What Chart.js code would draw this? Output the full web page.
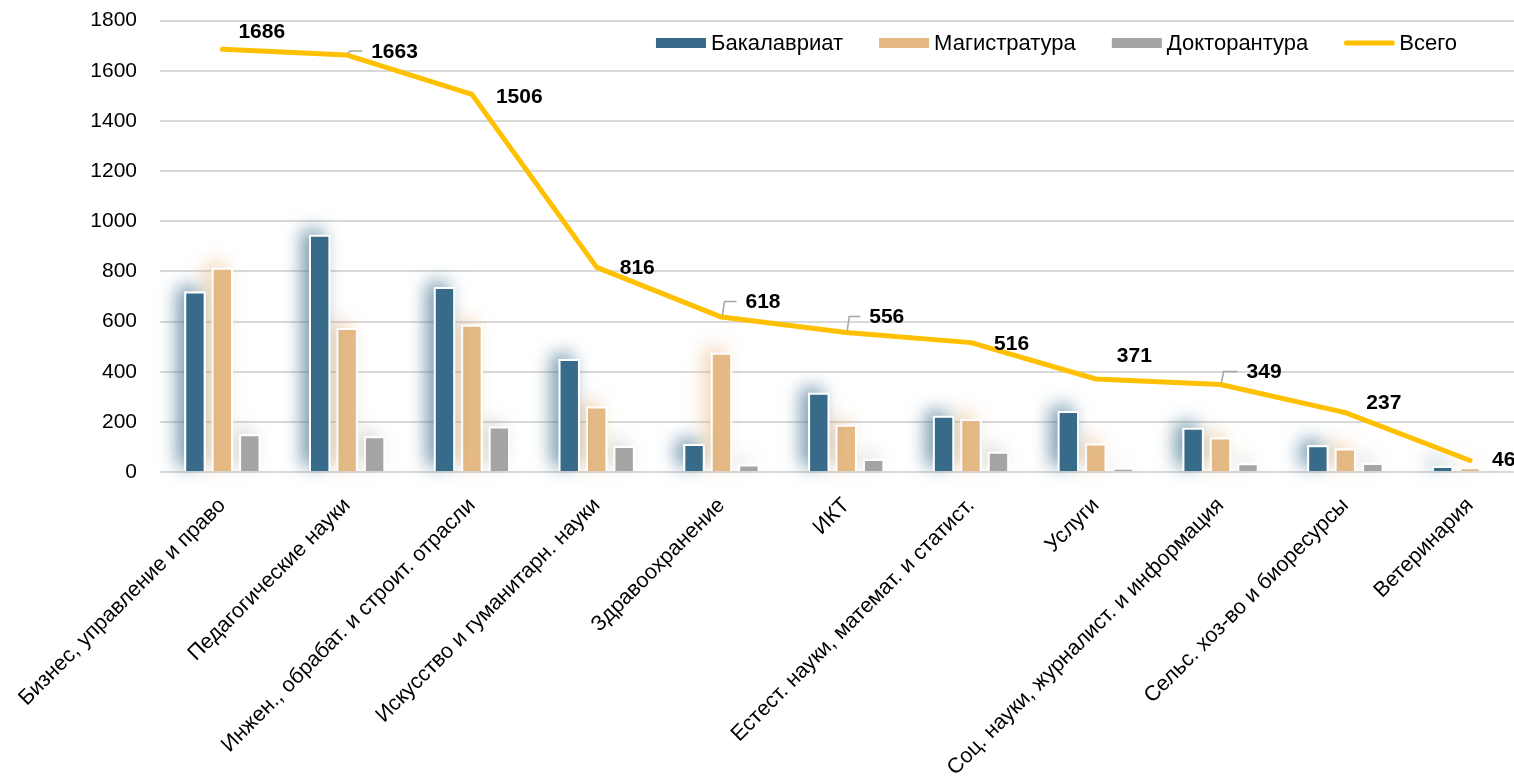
<!DOCTYPE html>
<html lang="ru">
<head>
<meta charset="utf-8">
<title>Выпускники по направлениям</title>
<script src="https://cdn.jsdelivr.net/npm/chart.js@4.4.1/dist/chart.umd.min.js"></script>
<style>
    html, body {
        margin: 0;
        padding: 0;
        background: #ffffff;
        overflow: hidden;
    }

    #wrap {
        position: relative;
        width: 1534px;
        height: 778px;
    }
</style>
</head>
<body>

<div id="wrap">
    <canvas id="chart"></canvas>
</div>

<script>

// данные с диаграммы
const categories = [
    "Бизнес, управление и право",
    "Педагогические науки",
    "Инжен., обрабат. и строит. отрасли",
    "Искусство и гуманитарн. науки",
    "Здравоохранение",
    "ИКТ",
    "Естест. науки, математ. и статист.",
    "Услуги",
    "Соц. науки, журналист. и информация",
    "Сельс. хоз-во и биоресурсы",
    "Ветеринария"
];

const seriesNames = [
    "Бакалавриат",
    "Магистратура",
    "Докторантура",
    "Всего"
];

const bachelor = [720, 946, 738, 451, 112, 316, 224, 243, 176, 107, 24];
const master   = [815, 574, 587, 261, 476, 188, 211, 114, 138, 94, 17];
const doctor   = [151, 143, 181, 104, 30, 52, 81, 14, 35, 36, 5];
const total    = [1686, 1663, 1506, 816, 618, 556, 516, 371, 349, 237, 46];

const yMin = 0;
const yMax = 1800;
const yStep = 200;


// где стоят подписи "Всего" относительно точки (как в Excel)
const labelOffsets = [
    [16, -17.5],
    [24, -3],
    [24, 2.5],
    [23, 1],
    [24, -14.5],
    [23, -15],
    [23, 2],
    [21, -22.5],
    [26, -12],
    [21, -9.5],
    [22, 0]
];

const withLeader = [false, true, false, false, true, true, false, false, true, false, false];


const FONT = "'Liberation Sans', Arial, sans-serif";

const colors = {
    bachelor: "#386B8A",
    master: "#E4B984",
    doctor: "#A5A5A5",
    total: "#FFC000"
};

const glow = [
    "rgba(56, 107, 138, 0.7)",
    "rgba(232, 180, 120, 0.55)",
    "rgba(150, 150, 150, 0.35)"
];


// мягкая тень за столбиками
const barGlow = {

    id: "barGlow",

    beforeDatasetDraw(chart, args) {

        if (args.index > 2) return;

        const ctx = chart.ctx;

        ctx.save();
        ctx.shadowColor = glow[args.index];
        ctx.shadowBlur = 18;
        ctx.shadowOffsetX = -7;
        ctx.shadowOffsetY = -5;
        ctx.fillStyle = "#ffffff";

        args.meta.data.forEach(bar => {

            const p = bar.getProps(["x", "y", "base", "width"], true);

            ctx.fillRect(
                p.x - p.width / 2,
                p.y,
                p.width,
                p.base - p.y
            );
        });

        ctx.restore();
    }
};


// подписи значений линии "Всего"
const totalLabels = {

    id: "totalLabels",

    afterDatasetsDraw(chart) {

        const ctx = chart.ctx;
        const meta = chart.getDatasetMeta(3);

        ctx.save();
        ctx.font = "bold 21px " + FONT;
        ctx.textAlign = "left";
        ctx.textBaseline = "middle";

        meta.data.forEach((pt, i) => {

            const dx = labelOffsets[i][0];
            const dy = labelOffsets[i][1];

            if (withLeader[i]) {
                ctx.strokeStyle = "#A5A5A5";
                ctx.lineWidth = 1.5;
                ctx.beginPath();
                ctx.moveTo(pt.x + 1, pt.y - 2);
                ctx.lineTo(pt.x + 3, pt.y + dy - 1);
                ctx.lineTo(pt.x + dx - 9, pt.y + dy - 1);
                ctx.stroke();
            }

            ctx.fillStyle = "#000000";
            ctx.fillText(String(total[i]), pt.x + dx, pt.y + dy);
        });

        ctx.restore();
    }
};


// легенда справа вверху, внутри области графика
const topLegend = {

    id: "topLegend",

    afterDraw(chart) {

        const ctx = chart.ctx;
        const sets = chart.data.datasets;

        const boxW = 50;
        const boxH = 10;
        const gap = 5;
        const spacing = 36;
        const right = 1457;
        const cy = 43;

        ctx.save();
        ctx.font = "22px " + FONT;
        ctx.textBaseline = "middle";
        ctx.textAlign = "left";

        const widths = sets.map(ds => boxW + gap + ctx.measureText(ds.label).width);
        let x = right - widths.reduce((a, b) => a + b, 0) - spacing * (sets.length - 1);

        sets.forEach((ds, i) => {

            if (ds.type === "line") {
                ctx.strokeStyle = ds.borderColor;
                ctx.lineWidth = 5;
                ctx.lineCap = "round";
                ctx.beginPath();
                ctx.moveTo(x + 2, cy);
                ctx.lineTo(x + boxW - 2, cy);
                ctx.stroke();
            } else {
                ctx.fillStyle = ds.backgroundColor;
                ctx.fillRect(x, cy - boxH / 2, boxW, boxH);
            }

            ctx.fillStyle = "#000000";
            ctx.fillText(ds.label, x + boxW + gap, cy + 1);

            x += widths[i] + spacing;
        });

        ctx.restore();
    }
};


function barSet(label, values, color) {
    return {
        type: "bar",
        label: label,
        data: values,
        backgroundColor: color,
        borderColor: "#ffffff",
        borderWidth: 2,
        borderSkipped: "bottom",
        categoryPercentage: 0.66,
        barPercentage: 0.78,
        order: 1
    };
}


new Chart(
    document.getElementById("chart"),
    {
        data: {
            labels: categories,
            datasets: [
                barSet(seriesNames[0], bachelor, colors.bachelor),
                barSet(seriesNames[1], master, colors.master),
                barSet(seriesNames[2], doctor, colors.doctor),
                {
                    type: "line",
                    label: seriesNames[3],
                    data: total,
                    borderColor: colors.total,
                    backgroundColor: colors.total,
                    borderWidth: 5,
                    pointRadius: 0,
                    tension: 0,
                    borderCapStyle: "round",
                    borderJoinStyle: "round",
                    order: 0
                }
            ]
        },

        options: {
            responsive: true,
            maintainAspectRatio: false,
            animation: false,

            layout: {
                padding: { top: 20.7, right: 1.5, bottom: 0, left: 0 }
            },

            plugins: {
                legend: { display: false },
                tooltip: { enabled: false }
            },

            scales: {
                x: {
                    grid: { display: false, drawTicks: false },
                    border: { display: false },
                    ticks: {
                        autoSkip: false,
                        minRotation: 45,
                        maxRotation: 45,
                        padding: 21,
                        color: "#000000",
                        font: { family: FONT, size: 21.5 }
                    },
                    afterFit(scale) {
                        scale.height = 306;
                        scale.paddingLeft = 0;
                        scale.paddingRight = 0;
                        scale.paddingTop = 0;
                        scale.paddingBottom = 0;
                    }
                },

                y: {
                    min: yMin,
                    max: yMax,
                    grid: {
                        color: "#D9D9D9",
                        lineWidth: 2,
                        drawTicks: false
                    },
                    border: { display: false },
                    ticks: {
                        stepSize: yStep,
                        padding: 23,
                        color: "#000000",
                        font: { family: FONT, size: 21 },
                        callback: v => String(v)
                    },
                    afterFit(scale) {
                        scale.width = 160;
                        scale.paddingLeft = 0;
                        scale.paddingRight = 0;
                        scale.paddingTop = 0;
                        scale.paddingBottom = 0;
                    }
                }
            }
        },

        plugins: [barGlow, totalLabels, topLegend]
    }
);

</script>
</body>
</html>
